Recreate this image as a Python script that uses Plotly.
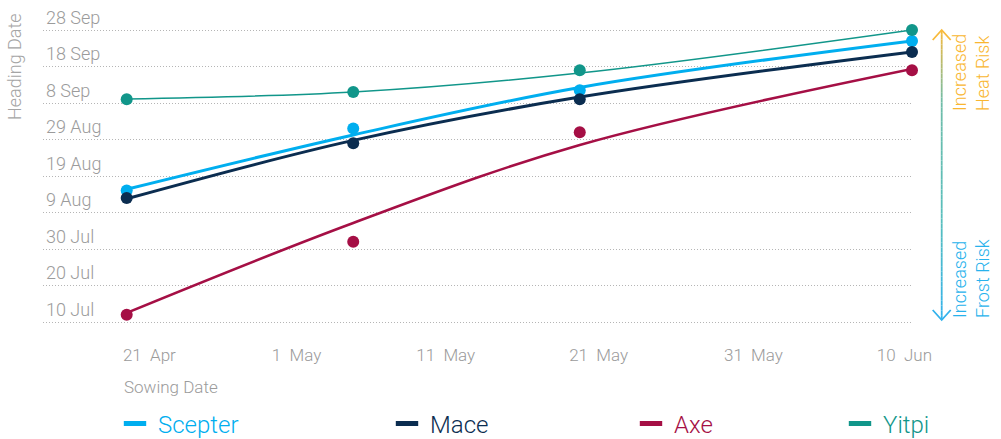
import plotly.graph_objects as go
from datetime import datetime, timedelta

# ---------------- data ----------------
varieties = ["Scepter", "Mace", "Axe", "Yitpi"]
sowing_dates = ["2021-04-20", "2021-05-05", "2021-05-20", "2021-06-11"]

scepter_heading = ["2021-08-15", "2021-09-01", "2021-09-11 12:00", "2021-09-25"]
mace_heading = ["2021-08-13", "2021-08-28", "2021-09-09", "2021-09-22"]
axe_heading = ["2021-07-12", "2021-08-01", "2021-08-31", "2021-09-17"]
yitpi_heading = ["2021-09-09", "2021-09-11", "2021-09-17", "2021-09-28"]

# fitted trend lines at each sowing date
scepter_trend = ["2021-08-15 09:00", "2021-08-30 06:00", "2021-09-12 06:00", "2021-09-25"]
mace_trend = ["2021-08-12 18:00", "2021-08-28 18:00", "2021-09-09 15:00", "2021-09-22"]
axe_trend = ["2021-07-12 12:00", "2021-08-06 03:00", "2021-08-27 12:00", "2021-09-17 08:00"]
yitpi_trend = ["2021-09-09 02:00", "2021-09-11", "2021-09-16 05:00", "2021-09-28"]

y_tick_vals = ["2021-07-10", "2021-07-20", "2021-07-30", "2021-08-09", "2021-08-19",
               "2021-08-29", "2021-09-08", "2021-09-18", "2021-09-28"]
y_tick_text = ["10 Jul", "20 Jul", "30 Jul", "9 Aug", "19 Aug", "29 Aug", "8 Sep", "18 Sep", "28 Sep"]
x_tick_vals = ["2021-04-21 12:00", "2021-05-01 06:00", "2021-05-11 03:00",
               "2021-05-21 06:00", "2021-05-31 12:00", "2021-06-10 12:00"]
x_tick_text = ["21\u00a0 Apr", "1\u00a0 May", "11\u00a0 May", "21\u00a0 May", "31\u00a0 May", "10\u00a0 Jun"]

# ---------------- style ----------------
colors = {"Scepter": "#00AEEF", "Mace": "#0B2D50", "Axe": "#A50F45", "Yitpi": "#11968A"}
widths = {"Scepter": 3, "Mace": 3, "Axe": 2.6, "Yitpi": 1.5}
headings = {"Scepter": scepter_heading, "Mace": mace_heading, "Axe": axe_heading, "Yitpi": yitpi_heading}
trends = {"Scepter": scepter_trend, "Mace": mace_trend, "Axe": axe_trend, "Yitpi": yitpi_trend}

W, H = 1001, 439
L, R, T, B = 43, 912, 0, 335  # plot area in window pixels


def px2x(px):
    return (px - L) / (R - L)


def py2y(py):
    return (B - py) / (B - T)


x_ppd = (912 - 126.7) / 52.0
x0 = datetime(2021, 4, 20) - timedelta(days=(126.7 - L) / x_ppd)
x1 = datetime(2021, 6, 11)
y_ppd = (322 - 30) / 80.0
y1 = datetime(2021, 9, 28) + timedelta(days=(30 - T) / y_ppd)
y0 = datetime(2021, 7, 10) - timedelta(days=(B - 322) / y_ppd)

fig = go.Figure()

for v in varieties:
    fig.add_trace(go.Scatter(x=sowing_dates, y=trends[v], mode="lines",
                             line=dict(shape="spline", color=colors[v], width=widths[v]),
                             showlegend=False, hoverinfo="skip"))
for v in varieties:
    fig.add_trace(go.Scatter(x=sowing_dates, y=headings[v], mode="markers",
                             marker=dict(size=12, color=colors[v]),
                             cliponaxis=False, showlegend=False, name=v))

legend_ids = ["legend", "legend2", "legend3", "legend4"]
legend_text_x = [158, 430, 674, 883]
ITEMW = 36
legend_layouts = {}
for v, lg, tx in zip(varieties, legend_ids, legend_text_x):
    fig.add_trace(go.Scatter(x=[None], y=[None], mode="markers", name=v, legend=lg,
                             marker=dict(symbol="line-ew", size=16, color=colors[v],
                                         line=dict(color=colors[v], width=6)),
                             showlegend=True))
    legend_layouts[lg] = dict(x=px2x(tx - ITEMW - 10), y=py2y(424), xref="paper", yref="paper",
                              xanchor="left", yanchor="middle", bgcolor="rgba(0,0,0,0)",
                              itemwidth=ITEMW,
                              font=dict(size=24, color=colors[v], family="Roboto", weight=300))

fig.update_layout(
    width=W, height=H,
    margin=dict(l=L, r=W - R, t=T, b=H - B, autoexpand=False),
    plot_bgcolor="white", paper_bgcolor="white",
    font=dict(family="Roboto", color="#9b9b9b", weight=300),
    xaxis=dict(type="date", range=[x0.isoformat(), x1.isoformat()],
               tickvals=x_tick_vals, ticktext=x_tick_text, showgrid=False, zeroline=False,
               showline=False, ticks="outside", ticklen=5, tickcolor="rgba(0,0,0,0)",
               tickangle=0, automargin=False,
               tickfont=dict(size=17, color="#9b9b9b")),
    yaxis=dict(type="date", range=[y0.isoformat(), y1.isoformat()],
               tickvals=y_tick_vals, ticktext=y_tick_text, showgrid=True,
               gridcolor="#b5b5b5", griddash="1px,2px", gridwidth=1, automargin=False,
               ticklabelposition="inside top", ticks="", zeroline=False, showline=False,
               tickfont=dict(size=18, color="#9b9b9b")),
    hovermode=False,
    **legend_layouts,
)

annotations = [
    dict(text="Heading Date", x=px2x(15), y=py2y(67), textangle=-90,
         font=dict(size=18, color="#a5a5a5")),
    dict(text="Sowing Date", x=px2x(122), y=py2y(387), xanchor="left",
         font=dict(size=17, color="#9b9b9b")),
    dict(text="Increased<br>Heat Risk", x=px2x(971), y=py2y(72), textangle=-90, align="left",
         font=dict(size=18, color="#F9B630")),
    dict(text="Increased<br>Frost Risk", x=px2x(971), y=py2y(278), textangle=-90, align="left",
         font=dict(size=18, color="#27B2EC")),
]
for a in annotations:
    a.setdefault("xanchor", "center")
    a.update(xref="paper", yref="paper", showarrow=False, yanchor="middle")
    fig.add_annotation(**a)

# gradient double arrow on the right
stops = [(0.0, (248, 186, 60)), (0.25, (110, 188, 168)), (0.65, (88, 190, 188)), (1.0, (50, 178, 236))]


def grad(t):
    for (t0, c0), (t1, c1) in zip(stops[:-1], stops[1:]):
        if t <= t1:
            f = (t - t0) / (t1 - t0)
            return "rgb(%d,%d,%d)" % tuple(round(a + (b - a) * f) for a, b in zip(c0, c1))
    return "rgb(%d,%d,%d)" % stops[-1][1]


ax_px, top_px, bot_px = 941.7, 30, 320
n = 60
for i in range(n):
    ya = top_px + (bot_px - top_px) * i / n
    yb = top_px + (bot_px - top_px) * (i + 1) / n
    fig.add_shape(type="line", xref="paper", yref="paper",
                  x0=px2x(ax_px), x1=px2x(ax_px), y0=py2y(ya), y1=py2y(yb),
                  line=dict(color=grad((i + 0.5) / n), width=1.8), layer="above")
for tip, sgn, col in [(top_px, 1, grad(0)), (bot_px, -1, grad(1))]:
    fig.add_shape(type="path", xref="paper", yref="paper",
                  path="M %f %f L %f %f L %f %f" % (px2x(ax_px - 9), py2y(tip + sgn * 10),
                                                    px2x(ax_px), py2y(tip),
                                                    px2x(ax_px + 9), py2y(tip + sgn * 10)),
                  line=dict(color=col, width=1.8), layer="above")

fig.write_html("out.html", config={"displayModeBar": False},
               post_script="document.body.style.margin='0';")
